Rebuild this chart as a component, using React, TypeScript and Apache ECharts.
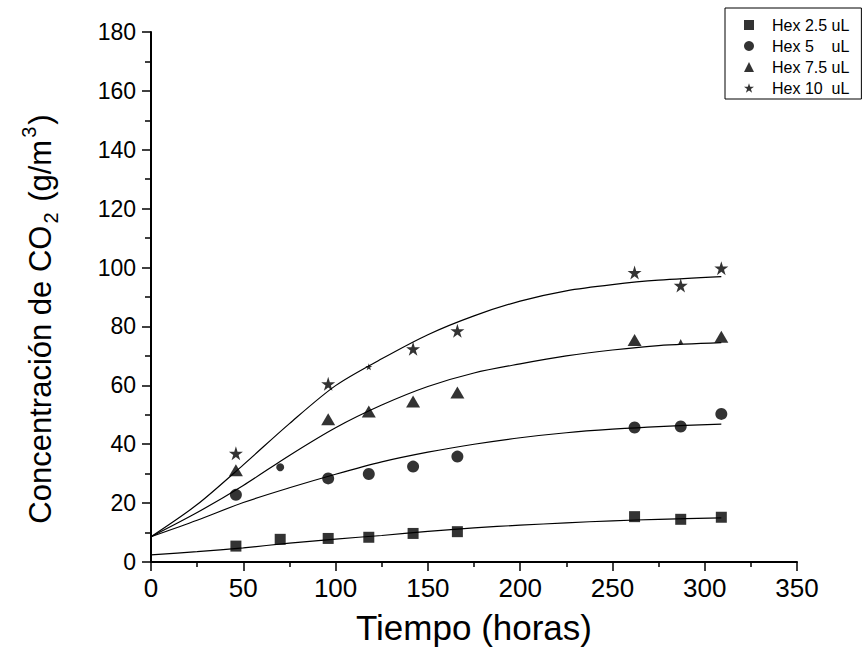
import React, { useEffect, useRef } from "react";
import * as echarts from "echarts";

// Measured points (hours vs g/m3)
const hours = [46, 70, 96, 118, 142, 166, 262, 287, 309];
const hex25 = [5.4, 7.7, 8.0, 8.4, 9.7, 10.3, 15.4, 14.5, 15.2];
const hex5 = [22.8, 32.2, 28.4, 29.9, 32.4, 35.8, 45.7, 46.0, 50.3];
const hex75 = [31.2, null, 48.5, 51.1, 54.5, 57.6, 75.4, 74.9, 76.5];
const hex10 = [36.9, null, 60.5, 66.3, 72.4, 78.5, 98.3, 93.9, 99.8];

// Fitted curves
const fitHours = [0, 25, 50, 75, 100, 125, 150, 175, 200, 225, 250, 275, 309];
const fit25 = [2.4, 3.5, 4.8, 6.4, 7.8, 9.0, 10.4, 11.6, 12.5, 13.3, 14.0, 14.5, 15.0];
const fit5 = [8.6, 14.2, 20.2, 25.2, 29.8, 34.0, 37.3, 40.0, 42.2, 43.9, 45.1, 46.0, 46.8];
const fit75 = [8.6, 16.8, 26.0, 36.2, 45.6, 53.3, 59.6, 64.2, 67.3, 70.0, 72.0, 73.5, 74.5];
const fit10 = [8.6, 19.5, 33.0, 47.0, 59.9, 69.0, 77.2, 83.6, 88.6, 92.1, 94.2, 95.7, 96.9];

const seriesNames = ["Hex 2.5 uL", "Hex 5    uL", "Hex 7.5 uL", "Hex 10  uL"];
const xTicks = { min: 0, max: 350, interval: 50 };
const yTicks = { min: 0, max: 180, interval: 20 };

const STAR =
  "path://M50,0 L61.2,34.5 L97.6,34.5 L68.2,55.9 L79.4,90.5 L50,69.1 L20.6,90.5 L31.8,55.9 L2.4,34.5 L38.8,34.5 Z";
const symbols = ["rect", "circle", "triangle", STAR];
const sizes = [11, 12, [14, 12], 14];
// partially hidden markers in the original
const reduced: Record<string, number> = { "1-1": 8, "2-7": 5, "3-3": 7 };

const FONT = "Liberation Sans, Arial, sans-serif";

export default function App() {
  const ref = useRef<HTMLDivElement>(null);
  useEffect(() => {
    if (!ref.current) return;
    const chart = echarts.init(ref.current, null, { renderer: "svg" });
    const pointSets = [hex25, hex5, hex75, hex10];
    const fits = [fit25, fit5, fit75, fit10];
    const series: any[] = [];
    fits.forEach((f, i) => {
      series.push({
        name: "fit" + i,
        type: "line",
        data: fitHours.map((h, k) => [h, f[k]]),
        smooth: 0.3,
        showSymbol: false,
        symbol: "none",
        lineStyle: { color: "#000", width: 1.2 },
        z: 2,
        silent: true,
      });
    });
    pointSets.forEach((p, i) => {
      const data: any[] = [];
      hours.forEach((h, k) => {
        if (p[k] == null) return;
        const key = i + "-" + k;
        if (reduced[key]) data.push({ value: [h, p[k]], symbolSize: reduced[key] });
        else data.push([h, p[k]]);
      });
      series.push({
        name: seriesNames[i],
        type: "scatter",
        symbol: symbols[i],
        symbolSize: sizes[i],
        itemStyle: { color: "#000" },
        data,
        z: 3,
      });
    });

    chart.setOption({
      animation: false,
      backgroundColor: "#fff",
      grid: { left: 151, right: 71, top: 32, bottom: 98, containLabel: false },
      legend: {
        orient: "vertical",
        left: 725,
        top: 8,
        padding: [9, 12, 3, 19],
        itemGap: 5,
        itemWidth: 10,
        itemHeight: 10,
        borderColor: "#000",
        borderWidth: 1,
        selectedMode: false,
        data: seriesNames.map((n, i) => ({
          name: n,
          icon: symbols[i],
          itemStyle: { color: "#000" },
        })),
        textStyle: {
          fontFamily: FONT,
          fontSize: 16,
          color: "#000",
          padding: [0, 0, 0, 13],
        },
      },
      xAxis: {
        type: "value",
        min: xTicks.min,
        max: xTicks.max,
        interval: xTicks.interval,
        name: "Tiempo (horas)",
        nameLocation: "middle",
        nameGap: 48,
        nameTextStyle: { fontFamily: FONT, fontSize: 35, color: "#000" },
        axisLine: { show: true, onZero: false, lineStyle: { color: "#000", width: 2 } },
        axisTick: { show: true, inside: false, length: 9, lineStyle: { color: "#000", width: 1.5 } },
        minorTick: { show: true, splitNumber: 2, length: 5, lineStyle: { color: "#000", width: 1.5 } },
        splitLine: { show: false },
        axisLabel: { margin: 13, fontFamily: FONT, fontSize: 26, color: "#000" },
      },
      yAxis: {
        type: "value",
        min: yTicks.min,
        max: yTicks.max,
        interval: yTicks.interval,
        name: "{a|Concentración de CO}{sub|2}{a| (g/m}{sup|3}{a|)}",
        nameLocation: "middle",
        nameGap: 90,
        nameRotate: 90,
        nameTextStyle: {
          fontFamily: FONT,
          fontSize: 32,
          color: "#000",
          padding: [0, 44, 0, 0],
          rich: {
            a: { fontFamily: FONT, fontSize: 31, color: "#000", lineHeight: 42, verticalAlign: "middle" },
            sub: { fontFamily: FONT, fontSize: 20, color: "#000", lineHeight: 42, verticalAlign: "bottom", padding: [0, 2, 0, 2] },
            sup: { fontFamily: FONT, fontSize: 20, color: "#000", lineHeight: 42, verticalAlign: "top", padding: [0, 2, 0, 2] },
          },
        },
        axisLine: { show: true, onZero: false, lineStyle: { color: "#000", width: 2 } },
        axisTick: { show: true, inside: false, length: 9, lineStyle: { color: "#000", width: 1.5 } },
        minorTick: { show: true, splitNumber: 2, length: 6, lineStyle: { color: "#000", width: 1.5 } },
        splitLine: { show: false },
        axisLabel: { margin: 15, fontFamily: FONT, fontSize: 23, color: "#000" },
      },
      series,
    });
    return () => chart.dispose();
  }, []);
  return (
    <div
      ref={ref}
      style={{ position: "fixed", left: 0, top: 0, width: 868, height: 660, background: "#fff" }}
    />
  );
}
